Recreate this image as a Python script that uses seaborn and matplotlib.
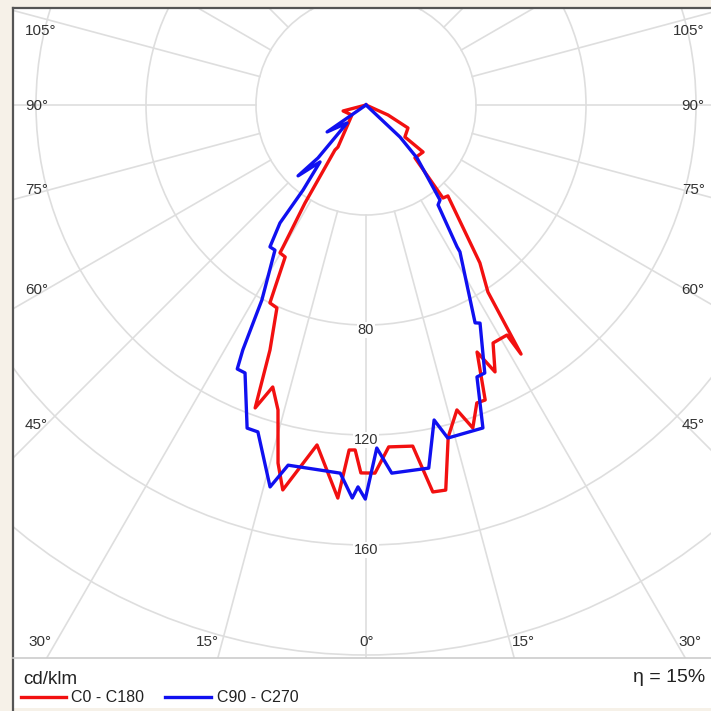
import numpy as np
import pandas as pd
import seaborn as sns
import matplotlib.pyplot as plt
from matplotlib.patches import Rectangle, Circle
from matplotlib.lines import Line2D

# gamma angle (deg, 0 = straight down, negative = left half) and intensity (cd/klm)
c0_angle = [-90, -75.4, -54.5, -33.7, -34.6, -31.9, -30.3, -30.2, -28.0, -25.9, -23.7,
            -21.4, -20.1, -18.3, -16.1, -13.8, -12.2, -8.2, -4.1, -2.8, -1.8, -0.8, 1.4,
            3.8, 7.8, 9.8, 11.7, 13.9, 16.6, 18.3, 20.4, 22.0, 24.2, 25.8, 28.1, 31.5,
            31.9, 33.1, 35.8, 42.0, 39.6, 42.8, 50.5, 50.6, 61.3, 65.6, 90]
c0_value = [0, 8.6, 6.3, 18.4, 19.9, 42.0, 59.8, 62.2, 62.6, 80.0, 80.6,
            95.7, 117.3, 108.0, 115.4, 134.1, 143.2, 124.9, 143.3, 125.6, 125.5, 133.8, 133.9,
            124.6, 125.2, 142.8, 143.0, 124.4, 115.7, 123.7, 115.6, 115.7, 98.5, 107.8, 98.1, 98.1,
            106.7, 81.2, 70.8, 44.5, 43.9, 26.2, 26.9, 18.3, 17.4, 8.8, 0]

c90_angle = [-90, -55.3, -46.5, -42.2, -43.8, -38.9, -36.5, -36.1, -34.1, -32.1, -28.1,
             -26.7, -26.0, -24.3, -20.2, -18.3, -14.1, -12.2, -4.0, -2.0, -1.2, -0.1, 1.8,
             4.0, 9.8, 12.2, 13.8, 19.9, 22.2, 23.9, 27.6, 26.6, 32.6, 32.7, 35.8, 37.9,
             43.9, 46.7, 90]
c90_value = [0, 17.2, 9.5, 26.0, 35.7, 26.6, 38.5, 53.1, 62.3, 62.3, 80.4,
             99.7, 106.8, 106.9, 125.2, 125.2, 143.2, 134.0, 134.2, 143.0, 138.9, 143.3, 124.8,
             134.2, 134.0, 117.2, 124.7, 124.9, 106.8, 106.6, 89.5, 88.6, 63.4, 61.3, 44.8, 43.8,
             26.8, 17.0, 0]

ring_values = [80, 120, 160]
angle_labels_side = ["105°", "90°", "75°", "60°", "45°"]
angle_labels_bottom = ["30°", "15°", "0°", "15°", "30°"]


def to_xy(angle, value, name):
    a = np.radians(angle)
    v = np.array(value)
    return pd.DataFrame({"x": v * np.sin(a), "y": -v * np.cos(a), "curve": name})


df = pd.concat([to_xy(c0_angle, c0_value, "C0 - C180"),
                to_xy(c90_angle, c90_value, "C90 - C270")], ignore_index=True)

plt.rcParams['font.family'] = ['Liberation Sans', 'DejaVu Sans']
fig = plt.figure(figsize=(7.11, 7.11), dpi=100, facecolor='#f6f1e8')
W = H = 711.0

# white panel with dark left/top edge
fig.add_artist(Rectangle((13 / W, 3 / H), 1, (H - 11) / H, transform=fig.transFigure,
                         facecolor='white', edgecolor='none', zorder=0))
fig.add_artist(Line2D([13 / W, 13 / W], [0, (H - 8) / H], transform=fig.transFigure,
                      color='#555555', lw=1.6))
fig.add_artist(Line2D([13 / W, 1], [(H - 8) / H, (H - 8) / H], transform=fig.transFigure,
                      color='#555555', lw=1.6))

ax = fig.add_axes([13 / W, (H - 658) / H, (W - 13) / W, (658 - 8) / H])
ax.set_facecolor('none')
scale = 2.75
ax.set_xlim((13 - 366) / scale, (711 - 366) / scale)
ax.set_ylim(-(658 - 105) / scale, (105 - 8) / scale)
ax.set_aspect('equal')

grid_c = '#dedede'
for r in range(40, 281, 40):
    ax.add_patch(Circle((0, 0), r, fill=False, edgecolor=grid_c, lw=1.2, zorder=1))
for a in range(0, 360, 15):
    t = np.radians(a)
    ax.plot([40 * np.sin(t), 320 * np.sin(t)], [-40 * np.cos(t), -320 * np.cos(t)],
            color=grid_c, lw=1.2, zorder=1)

sns.lineplot(data=df, x='x', y='y', hue='curve', sort=False, estimator=None,
             palette={"C0 - C180": '#f21010', "C90 - C270": '#1010f0'},
             lw=2.4, ax=ax, legend=False, zorder=3)
ax.axis('off')

for r in ring_values:
    ax.text(0, -(r + 1.8), str(r), ha='center', va='center', fontsize=10.5, color='#333333',
            bbox=dict(facecolor='white', edgecolor='none', pad=0.5), zorder=2)

side_y = [0.965, 0.849, 0.72, 0.566, 0.358]
for lab, yy in zip(angle_labels_side, side_y):
    ax.text(0.017, yy, lab, transform=ax.transAxes, ha='left', va='center',
            fontsize=11, color='#333333')
    ax.text(0.991, yy, lab, transform=ax.transAxes, ha='right', va='center',
            fontsize=11, color='#333333')
bottom_x = [0.039, 0.279, 0.506, 0.731, 0.970]
for lab, xx in zip(angle_labels_bottom, bottom_x):
    ax.text(xx, 0.025, lab, transform=ax.transAxes, ha='center', va='center',
            fontsize=11, color='#333333')

# separator line under the diagram
fig.add_artist(Line2D([13 / W, 1], [(H - 658) / H] * 2, transform=fig.transFigure,
                      color='#cccccc', lw=1.2))

fig.text(23 / W, 1 - 679 / H, "cd/klm", ha='left', va='center', fontsize=13.5, color='#222222')
fig.text(705 / W, 1 - 678 / H, "η = 15%", ha='right', va='center', fontsize=14, color='#222222')

fig.add_artist(Line2D([21 / W, 66 / W], [1 - 697 / H] * 2, transform=fig.transFigure,
                      color='#f21010', lw=2.4))
fig.text(71 / W, 1 - 697 / H, "C0 - C180", ha='left', va='center', fontsize=11.5, color='#222222')
fig.add_artist(Line2D([165 / W, 211 / W], [1 - 697 / H] * 2, transform=fig.transFigure,
                      color='#1010f0', lw=2.4))
fig.text(217 / W, 1 - 697 / H, "C90 - C270", ha='left', va='center', fontsize=11.5, color='#222222')

fig.savefig('out.png', dpi=100, facecolor=fig.get_facecolor())
